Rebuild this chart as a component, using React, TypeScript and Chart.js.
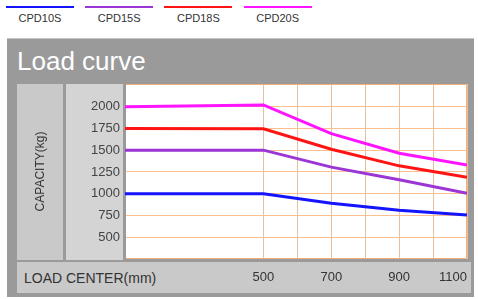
import React, { useEffect, useRef } from "react";
import { Chart, registerables } from "chart.js";

Chart.register(...registerables);

// ---- data ----
const seriesNames = ["CPD10S", "CPD15S", "CPD18S", "CPD20S"];
const seriesColors = ["#1414ff", "#9b35d6", "#ff1414", "#ff14ff"];
const loadCenters = [92, 500, 700, 900, 1100];
const cpd10s = [1000, 1000, 890, 810, 755];
const cpd15s = [1500, 1500, 1305, 1160, 1005];
const cpd18s = [1750, 1745, 1510, 1320, 1190];
const cpd20s = [2000, 2020, 1690, 1465, 1330];
const capacityTicks = [500, 750, 1000, 1250, 1500, 1750, 2000];
const loadCenterGrid = [500, 600, 700, 800, 900, 1000, 1100];
const loadCenterLabels = [500, 700, 900, 1100];
const chartTitle = "Load curve";
const yTitle = "CAPACITY(kg)";
const xTitle = "LOAD CENTER(mm)";
const xMin = 92;
const xMax = 1100;
const yMin = 250;
const yMax = 2260;

const FONT = "'Liberation Sans', Arial, Helvetica, sans-serif";

const plotFrame = {
  id: "plotFrame",
  beforeDraw(chart: any) {
    const { ctx, chartArea: a } = chart;
    ctx.save();
    ctx.fillStyle = "#ffffff";
    ctx.fillRect(a.left, a.top, a.right - a.left, a.bottom - a.top);
    ctx.restore();
  },
  beforeDatasetsDraw(chart: any) {
    const { ctx, chartArea: a } = chart;
    ctx.save();
    ctx.lineWidth = 1;
    ctx.strokeStyle = "#f2ad78";
    ctx.beginPath();
    ctx.moveTo(a.left, a.top + 0.5);
    ctx.lineTo(a.right - 0.5, a.top + 0.5);
    ctx.lineTo(a.right - 0.5, a.bottom - 0.5);
    ctx.lineTo(a.left, a.bottom - 0.5);
    ctx.stroke();
    ctx.strokeStyle = "#9a9a9a";
    ctx.beginPath();
    ctx.moveTo(a.left + 0.5, a.top);
    ctx.lineTo(a.left + 0.5, a.bottom);
    ctx.stroke();
    ctx.restore();
  },
};

export default function App() {
  const canvasRef = useRef<HTMLCanvasElement | null>(null);

  useEffect(() => {
    const canvas = canvasRef.current;
    if (!canvas) return;
    const seriesValues = [cpd10s, cpd15s, cpd18s, cpd20s];
    const datasets = seriesValues.map((vals, i) => ({
      label: seriesNames[i],
      data: vals.map((y, j) => ({ x: loadCenters[j], y })),
      borderColor: seriesColors[i],
      backgroundColor: seriesColors[i],
      borderWidth: 3,
      pointRadius: 0,
      tension: 0,
      fill: false,
    }));
    const chart = new Chart(canvas, {
      type: "line",
      data: { datasets },
      options: {
        animation: false,
        responsive: false,
        devicePixelRatio: 1,
        layout: { padding: { left: 0, top: 84, right: 7, bottom: 10 } },
        plugins: { legend: { display: false }, tooltip: { enabled: false } },
        scales: {
          x: {
            type: "linear",
            min: xMin,
            max: xMax,
            afterBuildTicks: (s: any) => {
              s.ticks = [xMin, ...loadCenterGrid].map((v) => ({ value: v }));
            },
            afterFit: (s: any) => {
              s.height = 30;
            },
            ticks: {
              autoSkip: false,
              maxRotation: 0,
              minRotation: 0,
              align: "inner",
              padding: 11,
              color: "#333333",
              font: { family: FONT, size: 13 },
              callback: (v: any) => (loadCenterLabels.includes(Number(v)) ? String(v) : ""),
            },
            grid: {
              color: (ctx: any) =>
                ctx.tick && ctx.tick.value === xMin ? "rgba(0,0,0,0)" : "#e8bf9c",
              drawTicks: false,
              lineWidth: 1,
            },
            border: { display: false },
          },
          y: {
            type: "linear",
            min: yMin,
            max: yMax,
            afterBuildTicks: (s: any) => {
              s.ticks = capacityTicks.map((v) => ({ value: v }));
            },
            afterFit: (s: any) => {
              s.width = 125;
            },
            ticks: {
              padding: 5,
              color: "#444444",
              font: { family: FONT, size: 13 },
              callback: (v: any) => String(v),
            },
            grid: { color: "#fcbf90", drawTicks: false, lineWidth: 1 },
            border: { display: false },
            title: {
              display: true,
              text: yTitle,
              color: "#333333",
              padding: { top: 33, bottom: 0 },
              font: { family: FONT, size: 12 },
            },
          },
        },
      },
      plugins: [plotFrame],
    } as any);
    return () => chart.destroy();
  }, []);

  const abs = (s: React.CSSProperties): React.CSSProperties => ({ position: "absolute", ...s });

  return (
    <div
      style={{
        position: "fixed",
        left: 0,
        top: 0,
        width: 478,
        height: 299,
        background: "#ffffff",
        fontFamily: FONT,
        overflow: "hidden",
      }}
    >
      {/* legend */}
      {seriesNames.map((name, i) => (
        <div key={name} style={abs({ left: 6 + i * 79.2, top: 0, width: 68, height: 30 })}>
          <div style={abs({ left: 0, top: 6, width: 68, height: 2, background: seriesColors[i] })} />
          <div
            style={abs({
              left: -10,
              top: 12,
              width: 88,
              textAlign: "center",
              fontSize: 11,
              lineHeight: "12px",
              color: "#333333",
            })}
          >
            {name}
          </div>
        </div>
      ))}
      {/* panel */}
      <div
        style={abs({
          left: 7,
          top: 38,
          width: 467,
          height: 259,
          background: "#9a9a9a",
          borderTop: "1px solid #c4c4c4",
          boxSizing: "border-box",
        })}
      />
      <div
        style={abs({
          left: 17,
          top: 48,
          fontSize: 26,
          lineHeight: "26px",
          color: "#ffffff",
          whiteSpace: "nowrap",
        })}
      >
        {chartTitle}
      </div>
      <div style={abs({ left: 17, top: 84, width: 46, height: 176, background: "#c9c9c9" })} />
      <div style={abs({ left: 66, top: 84, width: 57, height: 176, background: "#d4d4d4" })} />
      <div style={abs({ left: 17, top: 262, width: 454, height: 31, background: "#c9c9c9" })} />
      <div
        style={abs({
          left: 24,
          top: 271,
          fontSize: 14,
          lineHeight: "14px",
          color: "#333333",
          whiteSpace: "nowrap",
        })}
      >
        {xTitle}
      </div>
      <canvas
        ref={canvasRef}
        width={478}
        height={299}
        style={abs({ left: 0, top: 0, width: 478, height: 299 })}
      />
    </div>
  );
}
